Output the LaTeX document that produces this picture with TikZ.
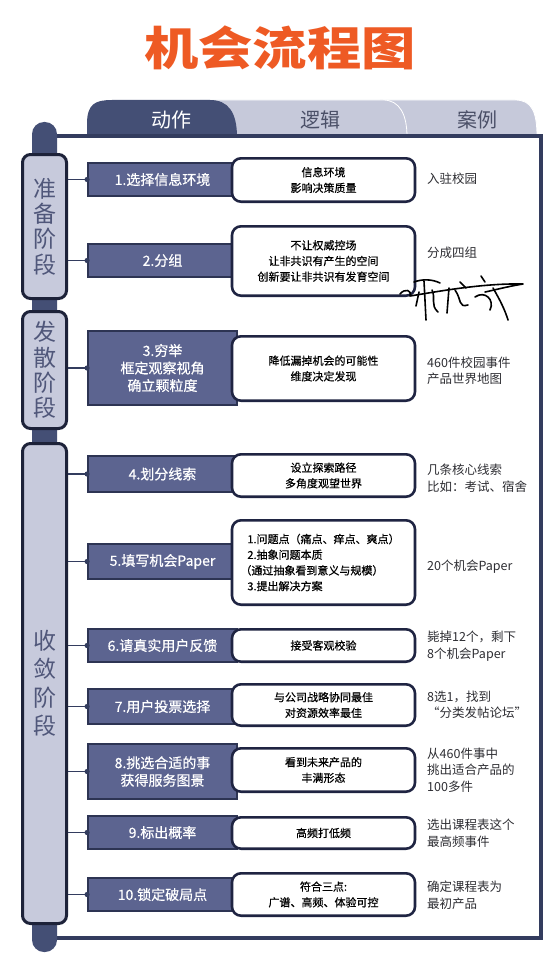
\documentclass[tikz,border=0pt]{standalone}
\usepackage{fontspec}
\setmainfont{Noto Sans CJK SC}
\newfontfamily\medfont{Noto Sans CJK SC}[FakeBold=0.6]
\definecolor{titleC}{HTML}{EE5A24}
\definecolor{navy}{HTML}{444F75}
\definecolor{tabL}{HTML}{C6C9DA}
\definecolor{tabT}{HTML}{4B5068}
\definecolor{frameC}{HTML}{333C5E}
\definecolor{stageF}{HTML}{C7CADC}
\definecolor{stageD}{HTML}{1D2239}
\definecolor{stageT}{HTML}{50577A}
\definecolor{actF}{HTML}{5C6490}
\definecolor{actD}{HTML}{2D3453}
\definecolor{logD}{HTML}{1F2442}
\definecolor{caseT}{HTML}{2E2E33}
\tikzset{
  stagebox/.style={draw=stageD, fill=stageF, line width=3pt, rounded corners=8pt, minimum width=44pt, inner sep=0pt, text=stageT, align=center},
  actbox/.style={draw=actD, fill=actF, line width=1.8pt, minimum width=149pt, inner sep=0pt, text=white, font=\medfont\fontsize{14}{17.5}\selectfont, align=center},
  logbox/.style={draw=logD, fill=white, line width=2.6pt, rounded corners=9pt, minimum width=183pt, inner sep=0pt, font=\medfont\fontsize{11}{15.7}\selectfont, align=center},
  casetext/.style={anchor=west, inner sep=0pt, text=caseT, font=\fontsize{12.5}{16.5}\selectfont, align=left},
  tabtext/.style={inner sep=0pt, font=\fontsize{20}{22}\selectfont},
  link/.style={draw=frameC, line width=1.8pt},
  sig/.style={draw=black, line width=1.6pt, line cap=round, line join=round}
}
\begin{document}
\begin{tikzpicture}[x=1pt,y=-1pt]
\useasboundingbox (0,0) rectangle (558,955);
\fill[white] (0,0) rectangle (558,955);
% title
\node[inner sep=0pt, text=titleC, font=\fontsize{46}{50}\selectfont\bfseries, xscale=1.18] (title) at (280,48) {机会流程图};
% tabs
\draw[fill=tabL, draw=white, line width=0.8pt] (380,137) -- (380,100) -- (515,100) .. controls (532,100) and (537,112) .. (537,137) -- cycle;
\draw[fill=tabL, draw=white, line width=0.8pt] (200,137) -- (200,100) -- (383,100) .. controls (400,100) and (407,115) .. (407,137) -- cycle;
\fill[navy] (87,137) -- (87,124) .. controls (87,104) and (95,100) .. (112,100) -- (210,100) .. controls (228,100) and (237,112) .. (237,137) -- cycle;
\node[tabtext, text=white] (tab1) at (171,120) {动作};
\node[tabtext, text=tabT] (tab2) at (320,120) {逻辑};
\node[tabtext, text=tabT] (tab3) at (477,120) {案例};
% frame
\draw[frameC, line width=4pt, fill=white] (50,135.5) rectangle (541,938);
% pillar
\fill[navy, rounded corners=12pt] (32,122) rectangle (57,952);
% stages
\node[stagebox, minimum height=144pt, font=\fontsize{23}{25.3}\selectfont] (st1) at (44.5,226.5) {准\\备\\阶\\段};
\node[stagebox, minimum height=117pt, font=\fontsize{23}{25.3}\selectfont] (st2) at (44.5,370) {发\\散\\阶\\段};
\node[stagebox, minimum height=480pt, font=\fontsize{23}{28.5}\selectfont] (st3) at (44.5,683.5) {收\\敛\\阶\\段};
% action boxes
\node[actbox, minimum height=33pt] (a1) at (162.5,179.5) {1.选择信息环境};
\node[actbox, minimum height=33pt] (a2) at (162.5,260.5) {2.分组};
\node[actbox, minimum height=74pt] (a3) at (162.5,368) {3.穷举\\框定观察视角\\确立颗粒度};
\node[actbox, minimum height=36pt] (a4) at (162.5,474) {4.划分线索};
\node[actbox, minimum height=35pt] (a5) at (162.5,561.5) {5.填写机会Paper};
\node[actbox, minimum height=33pt] (a6) at (162.5,645.5) {6.请真实用户反馈};
\node[actbox, minimum height=35pt] (a7) at (162.5,706.5) {7.用户投票选择};
\node[actbox, minimum height=55pt] (a8) at (162.5,771.5) {8.挑选合适的事\\获得服务图景};
\node[actbox, minimum height=33pt] (a9) at (162.5,832.5) {9.标出概率};
\node[actbox, minimum height=33pt] (a10) at (162.5,894.5) {10.锁定破局点};
% connectors
\foreach \a/\s in {a1/st1,a2/st1,a3/st2,a4/st3,a5/st3,a6/st3,a7/st3,a8/st3,a9/st3,a10/st3}{
  \draw[link] (\s.east |- \a.west) -- (\a.west);
  \fill[frameC] (\a.west) circle (2.6pt);
}
% logic boxes
\node[logbox, minimum height=43.4pt] (l1) at (323.5,180) {信息环境\\影响决策质量};
\node[logbox, minimum height=69.4pt] (l2) at (323.5,261) {不让权威控场\\让非共识有产生的空间\\创新要让非共识有发育空间};
\node[logbox, minimum height=64.4pt] (l3) at (323.5,368.5) {降低漏掉机会的可能性\\维度决定发现};
\node[logbox, minimum height=42.4pt] (l4) at (323.5,475.5) {设立探索路径\\多角度观望世界};
\node[logbox, minimum height=84.4pt, align=left] (l5) at (323.5,562.5) {1.问题点（痛点、痒点、爽点）\\2.抽象问题本质\\\hspace*{-7pt}（通过抽象看到意义与规模）\\3.提出解决方案};
\node[logbox, minimum height=32.4pt] (l6) at (323.5,645.5) {接受客观校验};
\node[logbox, minimum height=41.4pt] (l7) at (323.5,705) {与公司战略协同最佳\\对资源效率最佳};
\node[logbox, minimum height=43.4pt] (l8) at (323.5,770) {看到未来产品的\\丰满形态};
\node[logbox, minimum height=31.4pt] (l9) at (323.5,833) {高频打低频};
\node[logbox, minimum height=42.4pt] (l10) at (323.5,894.5) {符合三点:\\广谱、高频、体验可控};
% case texts
\node[casetext] (c1) at (427,179) {入驻校园};
\node[casetext] (c2) at (427,253) {分成四组};
\node[casetext] (c3) at (427,371) {460件校园事件\\产品世界地图};
\node[casetext] (c4) at (427,478) {几条核心线索\\比如：考试、宿舍};
\node[casetext] (c5) at (427,567) {20个机会Paper};
\node[casetext] (c6) at (427,646) {毙掉12个，剩下\\8个机会Paper};
\node[casetext] (c7) at (427,705) {8选1，找到\\“分类发帖论坛”};
\node[casetext] (c8) at (427,770) {从460件事中\\挑出适合产品的\\100多件};
\node[casetext] (c9) at (427,833) {选出课程表这个\\最高频事件};
\node[casetext] (c10) at (427,895) {确定课程表为\\最初产品};
% signature
\draw[sig] (400,294) .. controls (405,288) and (412,290) .. (410,296) .. controls (430,293) and (480,283) .. (523,284) .. controls (505,287) and (495,290) .. (485,292);
\draw[sig] (424,281) -- (426,320);
\draw[sig] (414,282) .. controls (422,279) and (432,279) .. (440,283);
\draw[sig] (419,292) -- (416,306);
\draw[sig] (432,290) .. controls (436,298) and (430,305) .. (438,312);
\draw[sig] (449,288) -- (447,313);
\draw[sig] (455,290) .. controls (462,300) and (458,308) .. (468,305);
\draw[sig] (460,282) -- (466,288);
\draw[sig] (481,276) -- (485,282);
\draw[sig] (475,297) .. controls (485,290) and (495,300) .. (490,310);
\draw[sig] (493,288) .. controls (500,300) and (505,310) .. (508,320);
\end{tikzpicture}
\end{document}
